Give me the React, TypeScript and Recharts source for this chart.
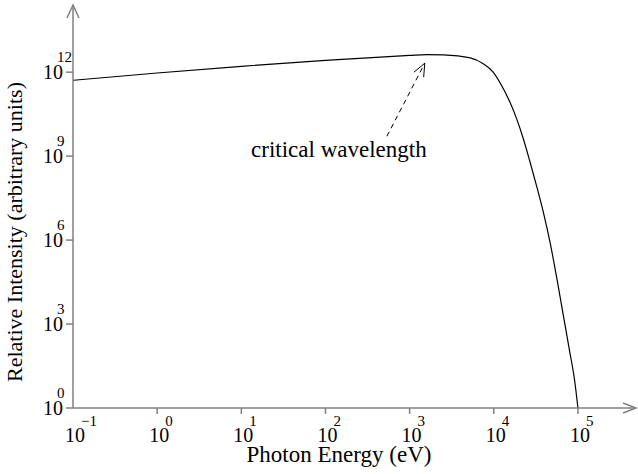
import { LineChart, Line, XAxis, YAxis, ReferenceDot, ReferenceLine, Label } from "recharts";

// log10 of photon energy (eV) and log10 of relative intensity
const ENERGY_LOG = [-1, 0, 1, 2, 3, 3.2, 3.4, 3.72, 3.87, 3.99, 4.09, 4.19, 4.27, 4.35, 4.43, 4.51, 4.59, 4.67, 4.75, 4.83, 4.9, 4.96, 5.0];
const INTENSITY_LOG = [11.71, 11.97, 12.21, 12.42, 12.6, 12.63, 12.62, 12.51, 12.31, 12.01, 11.54, 10.94, 10.35, 9.63, 8.8, 7.92, 6.98, 5.9, 4.62, 3.25, 2.05, 1.0, 0];

const X_TICKS = [-1, 0, 1, 2, 3, 4, 5];
const Y_TICKS = [0, 3, 6, 9, 12];
const X_MAX = 5.69;
const Y_MAX = 14.4;

// dashed pointer to the critical wavelength
const POINTER_FROM = { x: 2.73, y: 9.71 };
const POINTER_TO = { x: 3.18, y: 12.32 };

const data = ENERGY_LOG.map((e, i) => ({ e, v: INTENSITY_LOG[i] }));

const AXIS = "#808080";
const FONT = "'Liberation Serif', serif";
const txt = (size: number) => ({ fontFamily: FONT, fontSize: size, fill: "#000" });

const sup = (v: number) => (v < 0 ? "\u2212" + Math.abs(v) : String(v));

function XTick(props: any) {
  const { x, y, payload } = props;
  const v = payload.value;
  return (
    <g>
      {v !== X_TICKS[0] && <line x1={x} y1={y} x2={x} y2={y + 6} stroke={AXIS} strokeWidth={1.5} />}
      <text x={x + 2} y={y + 34} textAnchor="middle" style={txt(20)}>10</text>
      <text x={x + 8} y={y + 18} style={txt(15)}>{sup(v)}</text>
    </g>
  );
}

function YTick(props: any) {
  const { x, y, payload } = props;
  const v = payload.value;
  return (
    <g>
      <line x1={x - 7} y1={y} x2={x} y2={y} stroke={AXIS} strokeWidth={1.5} />
      <text x={x - 10} y={y + 7} textAnchor="end" style={txt(20)}>10</text>
      <text x={x - 16} y={y - 10} style={txt(15)}>{sup(v)}</text>
    </g>
  );
}

function Pointer(props: any) {
  const { x1, y1, x2, y2 } = props;
  const ang = Math.atan2(y2 - y1, x2 - x1);
  const len = 14;
  const spread = 0.4;
  const ax = x2 - len * Math.cos(ang - spread);
  const ay = y2 - len * Math.sin(ang - spread);
  const bx = x2 - len * Math.cos(ang + spread);
  const by = y2 - len * Math.sin(ang + spread);
  return (
    <g>
      <line x1={x1} y1={y1} x2={x2} y2={y2} stroke="#000" strokeWidth={1} strokeDasharray="5 4" />
      <polyline points={`${ax},${ay} ${x2},${y2} ${bx},${by}`} fill="none" stroke="#000" strokeWidth={1} />
      <text x={x1 - 48} y={y1 + 21} textAnchor="middle" style={txt(23)}>
        critical wavelength
      </text>
    </g>
  );
}

const ArrowUp = (p: any) => (
  <polyline points={`${p.cx - 6},${p.cy + 13} ${p.cx},${p.cy} ${p.cx + 6},${p.cy + 13}`} fill="none" stroke={AXIS} strokeWidth={1.5} />
);
const ArrowRight = (p: any) => (
  <polyline points={`${p.cx - 13},${p.cy - 5} ${p.cx},${p.cy} ${p.cx - 13},${p.cy + 5}`} fill="none" stroke={AXIS} strokeWidth={1.5} />
);

export default function App() {
  return (
    <div style={{ position: "absolute", left: 0, top: 0, background: "#fff", fontFamily: FONT }}>
      <LineChart width={638} height={474} data={data} margin={{ top: 5, right: 2, bottom: 0, left: 0 }}>
        <XAxis
          dataKey="e"
          type="number"
          domain={[-1, X_MAX]}
          ticks={X_TICKS}
          tick={<XTick />}
          tickLine={false}
          tickSize={0}
          tickMargin={0}
          height={66}
          axisLine={{ stroke: AXIS, strokeWidth: 1.5 }}
          allowDataOverflow
        >
          <Label
            content={() => (
              <text x={339} y={462} textAnchor="middle" style={txt(23)}>
                Photon Energy (eV)
              </text>
            )}
          />
        </XAxis>
        <YAxis
          type="number"
          domain={[0, Y_MAX]}
          ticks={Y_TICKS}
          tick={<YTick />}
          tickLine={false}
          tickSize={0}
          tickMargin={0}
          width={73}
          axisLine={{ stroke: AXIS, strokeWidth: 1.5 }}
          allowDataOverflow
        >
          <Label
            content={() => (
              <text transform="translate(22,232) rotate(-90)" textAnchor="middle" style={txt(22)}>
                Relative Intensity (arbitrary units)
              </text>
            )}
          />
        </YAxis>
        <Line
          type="monotone"
          dataKey="v"
          stroke="#000"
          strokeWidth={1.2}
          dot={false}
          isAnimationActive={false}
        />
        <ReferenceLine segment={[POINTER_FROM, POINTER_TO]} shape={<Pointer />} ifOverflow="visible" />
        <ReferenceDot x={-1} y={Y_MAX} r={0} shape={<ArrowUp />} ifOverflow="visible" />
        <ReferenceDot x={X_MAX} y={0} r={0} shape={<ArrowRight />} ifOverflow="visible" />
      </LineChart>
    </div>
  );
}
